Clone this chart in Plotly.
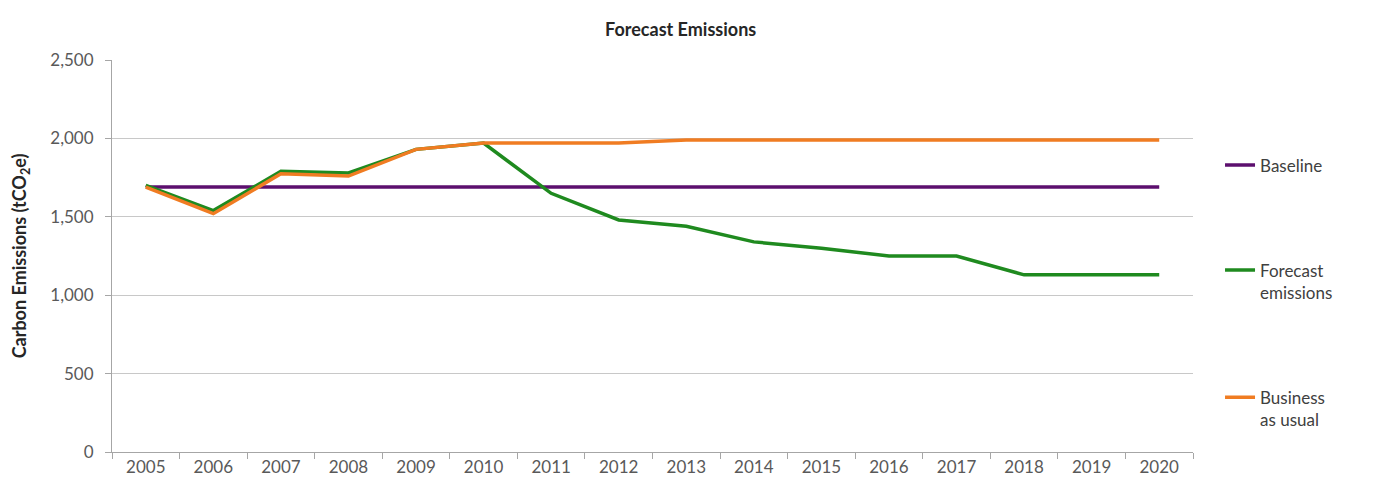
import plotly.graph_objects as go

years = [str(y) for y in range(2005, 2021)]
baseline = [1690] * 16
forecast = [1700, 1540, 1790, 1780, 1930, 1970, 1650, 1480, 1440, 1340, 1300, 1250, 1250, 1130, 1130, 1130]
business = [1690, 1520, 1775, 1760, 1930, 1970, 1970, 1970, 1990, 1990, 1990, 1990, 1990, 1990, 1990, 1990]

FONT = "Lato"
fig = go.Figure()
fig.add_trace(go.Scatter(x=years, y=baseline, mode="lines", name="Baseline",
                         line=dict(color="#5c0f6e", width=3.5), legendgroup="a"))
fig.add_trace(go.Scatter(x=years, y=forecast, mode="lines", name="Forecast<br>emissions",
                         line=dict(color="#1f8a1f", width=3.5), legendgroup="b"))
fig.add_trace(go.Scatter(x=years, y=business, mode="lines", name="Business<br>as usual",
                         line=dict(color="#f07c22", width=3.5), legendgroup="c"))

fig.update_layout(
    width=1375, height=498,
    margin=dict(l=112, r=182, t=60, b=46),
    plot_bgcolor="white", paper_bgcolor="white",
    font=dict(family=FONT, color="#595959", size=17),
    title=dict(text="<b>Forecast Emissions</b>", x=0.495, xanchor="center", y=0.94, yanchor="middle",
               font=dict(family=FONT, size=18, color="#262626")),
    legend=dict(x=1.025, xanchor="left", y=0.777, yanchor="top", tracegroupgap=80,
                font=dict(family=FONT, size=17, color="#404040"), valign="top",
                bgcolor="rgba(0,0,0,0)"),
    xaxis=dict(type="category", range=[-0.5, 15.5], showline=True, linecolor="#a6a6a6", linewidth=1,
               ticks="outside", tickson="boundaries", ticklen=6, tickcolor="#a6a6a6",
               showgrid=False, tickfont=dict(size=17)),
    yaxis=dict(range=[0, 2500], dtick=500, tickformat=",", showline=True, linecolor="#a6a6a6",
               ticks="outside", ticklen=6, tickcolor="#a6a6a6", gridcolor="#c8c8c8", gridwidth=1,
               zeroline=False, ticklabelstandoff=8, tickfont=dict(size=17),
               title=dict(text="<b>Carbon Emissions (tCO<sub>2</sub>e)</b>", standoff=18,
                          font=dict(family=FONT, size=18, color="#262626"))),
)

fig.write_html("out.html")
